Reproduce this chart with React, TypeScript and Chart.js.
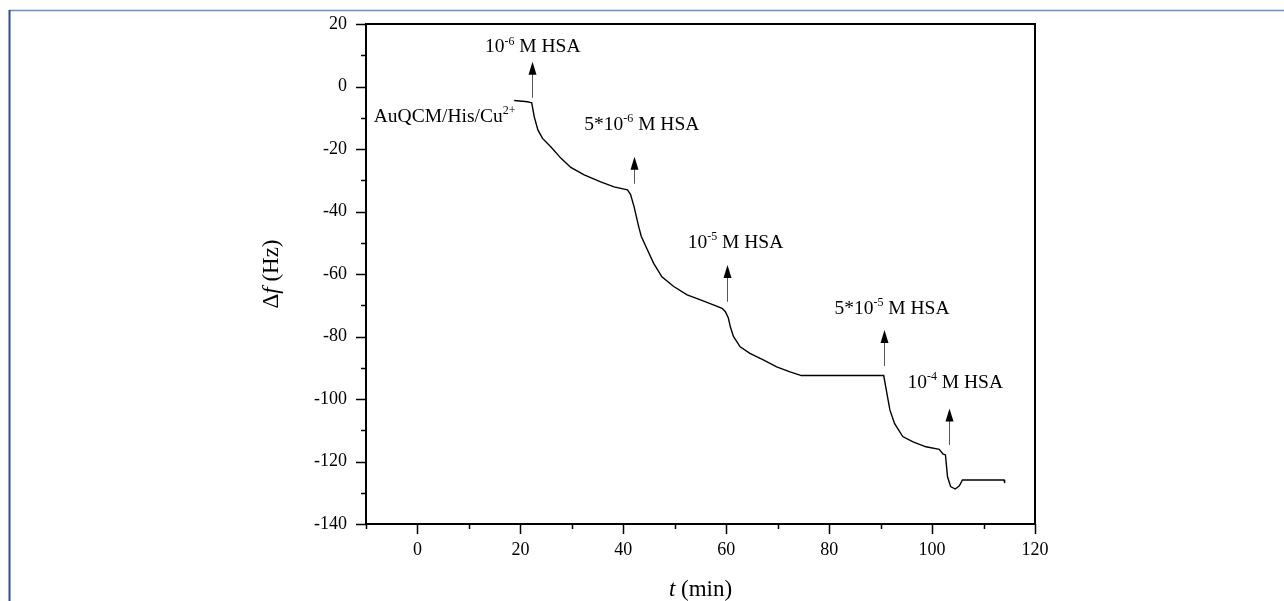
import React, { useEffect, useRef } from 'react';
import { Chart, registerables } from 'chart.js';

Chart.register(...registerables);

// ---- data ----
const timeMin = [18.8, 21.4, 21.9, 22.2, 22.7, 23.4, 24.3, 25.9, 27.9, 29.8, 32.4, 35.6, 38.2, 40.8, 41.4, 42.1, 43.0, 43.5, 44.7, 45.9, 47.5, 49.8, 52.4, 55.0, 57.5, 59.2, 59.8, 60.4, 60.8, 61.4, 62.7, 64.6, 67.2, 69.8, 72.4, 74.6, 90.6, 91.1, 91.8, 92.7, 94.3, 96.3, 98.8, 101.4, 102.1, 102.6, 103.0, 103.6, 104.5, 105.3, 105.9, 114.0, 114.1];
const deltaF = [-4.5, -4.9, -5.1, -5.2, -9.7, -13.9, -16.6, -19.3, -23.0, -25.9, -28.3, -30.5, -32.1, -33.1, -34.5, -38.5, -44.9, -48.0, -52.3, -56.6, -60.9, -64.0, -66.7, -68.3, -69.9, -71.0, -72.0, -74.0, -76.9, -80.0, -83.3, -85.4, -87.5, -89.7, -91.3, -92.5, -92.5, -97.1, -103.5, -107.8, -112.0, -113.7, -115.3, -116.1, -117.6, -117.9, -124.9, -128.0, -128.8, -127.8, -125.9, -125.9, -126.9];

const xTickLabels = [0, 20, 40, 60, 80, 100, 120];
const yTickLabels = [20, 0, -20, -40, -60, -80, -100, -120, -140];
const xMinorTicks = [-10, 10, 30, 50, 70, 90, 110];
const yMinorTicks = [10, -10, -30, -50, -70, -90, -110, -130];

// injection arrows (time, tip value, tail value)
const arrowTime = [22.2, 42.1, 60.1, 90.6, 103.2];
const arrowTip = [7.9, -22.5, -57.1, -77.9, -103.0];
const arrowTail = [-3.6, -31.1, -68.9, -89.4, -114.7];

// injection labels
const labelBase = ['10', '5*10', '10', '5*10', '10'];
const labelExp = ['-6', '-6', '-5', '-5', '-4'];
const labelRest = [' M HSA', ' M HSA', ' M HSA', ' M HSA', ' M HSA'];
const labelTime = [22.4, 43.6, 61.8, 92.2, 104.5];
const labelValue = [10.9, -13.9, -51.7, -72.8, -96.5];

const startLabel = 'AuQCM/His/Cu';
const startLabelExp = '2+';
const startLabelTime = -8.5;
const startLabelValue = -11.4;

const xTitle = ['t', ' (min)'];
const yTitle = ['Δ', 'f', ' (Hz)'];

const SERIF = '"Liberation Serif", "Times New Roman", serif';

type Part = { t: string; sup?: boolean; it?: boolean };

function fontFor(p: Part, size: number) {
  const s = p.sup ? Math.round(size * 0.62) : size;
  return `${p.it ? 'italic ' : ''}${s}px ${SERIF}`;
}

function richWidth(ctx: CanvasRenderingContext2D, parts: Part[], size: number) {
  let w = 0;
  for (const p of parts) {
    ctx.font = fontFor(p, size);
    w += ctx.measureText(p.t).width;
  }
  return w;
}

function drawRich(ctx: CanvasRenderingContext2D, parts: Part[], x: number, y: number, align: 'left' | 'center', size: number) {
  const w = richWidth(ctx, parts, size);
  let cx = align === 'center' ? x - w / 2 : x;
  ctx.textAlign = 'left';
  for (const p of parts) {
    ctx.font = fontFor(p, size);
    ctx.fillText(p.t, cx, p.sup ? y - size * 0.4 : y);
    cx += ctx.measureText(p.t).width;
  }
}

const overlayPlugin = {
  id: 'overlay',
  afterDraw(chart: any) {
    const ctx: CanvasRenderingContext2D = chart.ctx;
    const xs = chart.scales.x;
    const ys = chart.scales.y;
    const { left, right, top, bottom } = chart.chartArea;
    ctx.save();

    // page frame
    ctx.strokeStyle = '#6a8cc6';
    ctx.lineWidth = 1.5;
    ctx.beginPath();
    ctx.moveTo(9, 10.5);
    ctx.lineTo(1284, 10.5);
    ctx.stroke();
    ctx.strokeStyle = '#2f4f8f';
    ctx.lineWidth = 2;
    ctx.beginPath();
    ctx.moveTo(9.5, 10);
    ctx.lineTo(9.5, 601);
    ctx.stroke();

    // plot box
    ctx.strokeStyle = '#000';
    ctx.lineWidth = 2;
    ctx.strokeRect(left, top, right - left, bottom - top);

    // ticks
    ctx.lineWidth = 1.5;
    ctx.beginPath();
    for (const v of xTickLabels) {
      const px = Math.round(xs.getPixelForValue(v)) + 0.5;
      ctx.moveTo(px, bottom);
      ctx.lineTo(px, bottom + 10);
    }
    for (const v of xMinorTicks) {
      const px = Math.round(xs.getPixelForValue(v)) + 0.5;
      ctx.moveTo(px, bottom);
      ctx.lineTo(px, bottom + 5);
    }
    for (const v of yTickLabels) {
      const py = Math.round(ys.getPixelForValue(v)) + 0.5;
      ctx.moveTo(left, py);
      ctx.lineTo(left - 10, py);
    }
    for (const v of yMinorTicks) {
      const py = Math.round(ys.getPixelForValue(v)) + 0.5;
      ctx.moveTo(left, py);
      ctx.lineTo(left - 5, py);
    }
    ctx.stroke();

    // arrows
    for (let i = 0; i < arrowTime.length; i++) {
      const px = Math.round(xs.getPixelForValue(arrowTime[i])) + 0.5;
      const pTip = ys.getPixelForValue(arrowTip[i]);
      const pTail = ys.getPixelForValue(arrowTail[i]);
      ctx.strokeStyle = '#555';
      ctx.lineWidth = 1;
      ctx.beginPath();
      ctx.moveTo(px, pTail);
      ctx.lineTo(px, pTip + 10);
      ctx.stroke();
      ctx.fillStyle = '#000';
      ctx.beginPath();
      ctx.moveTo(px, pTip);
      ctx.lineTo(px - 4, pTip + 13);
      ctx.lineTo(px + 4, pTip + 13);
      ctx.closePath();
      ctx.fill();
    }

    // labels
    ctx.fillStyle = '#000';
    ctx.textBaseline = 'alphabetic';
    for (let i = 0; i < labelBase.length; i++) {
      drawRich(
        ctx,
        [{ t: labelBase[i] }, { t: labelExp[i], sup: true }, { t: labelRest[i] }],
        xs.getPixelForValue(labelTime[i]),
        ys.getPixelForValue(labelValue[i]),
        'center',
        19.5
      );
    }
    drawRich(
      ctx,
      [{ t: startLabel }, { t: startLabelExp, sup: true }],
      xs.getPixelForValue(startLabelTime),
      ys.getPixelForValue(startLabelValue),
      'left',
      19.5
    );

    // axis titles
    drawRich(ctx, [{ t: xTitle[0], it: true }, { t: xTitle[1] }], (left + right) / 2, bottom + 72, 'center', 23);
    ctx.save();
    ctx.translate(left - 88, (top + bottom) / 2);
    ctx.rotate(-Math.PI / 2);
    drawRich(ctx, [{ t: yTitle[0] }, { t: yTitle[1], it: true }, { t: yTitle[2] }], 0, 0, 'center', 23);
    ctx.restore();

    ctx.restore();
  },
};

export default function App() {
  const ref = useRef<HTMLCanvasElement | null>(null);

  useEffect(() => {
    if (!ref.current) return;
    const points = timeMin.map((t, i) => ({ x: t, y: deltaF[i] }));
    const chart = new Chart(ref.current, {
      type: 'line',
      data: {
        datasets: [
          {
            data: points,
            borderColor: '#000',
            borderWidth: 1.4,
            pointRadius: 0,
            tension: 0,
            fill: false,
          },
        ],
      },
      options: {
        animation: false,
        responsive: false,
        devicePixelRatio: 1,
        layout: { padding: { left: 0, top: 24, right: 249, bottom: 0 } },
        plugins: { legend: { display: false }, tooltip: { enabled: false } },
        scales: {
          x: {
            type: 'linear',
            min: -10,
            max: 120,
            grid: { display: false, drawTicks: false },
            border: { display: false },
            afterBuildTicks: (s: any) => {
              s.ticks = xTickLabels.map((v) => ({ value: v }));
            },
            afterFit: (s: any) => {
              s.height = 77;
              s.paddingLeft = 0;
              s.paddingRight = 0;
            },
            ticks: {
              padding: 15,
              maxRotation: 0,
              autoSkip: false,
              color: '#000',
              font: { family: SERIF, size: 18 },
            },
          },
          y: {
            type: 'linear',
            min: -140,
            max: 20,
            grid: { display: false, drawTicks: false },
            border: { display: false },
            afterBuildTicks: (s: any) => {
              s.ticks = yTickLabels.map((v) => ({ value: v }));
            },
            afterFit: (s: any) => {
              s.width = 366;
              s.paddingTop = 0;
              s.paddingBottom = 0;
            },
            ticks: {
              padding: 19,
              autoSkip: false,
              color: '#000',
              font: { family: SERIF, size: 18 },
            },
          },
        },
      },
      plugins: [overlayPlugin],
    });
    return () => chart.destroy();
  }, []);

  return (
    <div style={{ position: 'fixed', left: 0, top: 0, width: 1284, height: 601, background: '#fff' }}>
      <canvas ref={ref} width={1284} height={601} style={{ display: 'block', width: 1284, height: 601 }} />
    </div>
  );
}
